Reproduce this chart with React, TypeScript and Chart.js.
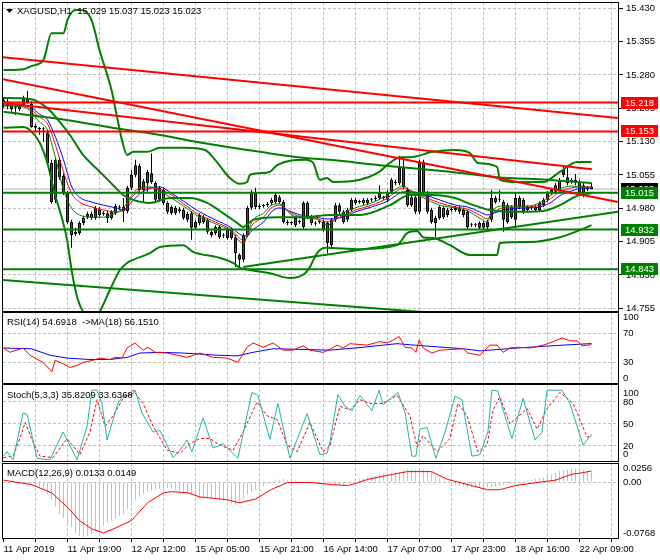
import React, { useEffect, useRef } from 'react';
import { Chart, registerables } from 'chart.js';

Chart.register(...registerables);

const FONT_FAMILY = '"Liberation Sans", Arial, Helvetica, sans-serif';
const FONT_SIZE = 9.5;
const GRID_COLOR = '#c0c0c0';
const GRID_DASH = [3, 2];
const BULL = '#0d6b2a';
const BEAR = '#ff0000';
const GREEN = '#008000';
const RED = '#ff0000';

// ---------- XAGUSD H1 candles (bar 0 .. 147) ----------
const openP = [
  15.215, 15.221, 15.212, 15.206, 15.203, 15.212, 15.226, 15.215, 15.165, 15.161,
  15.158, 15.149, 15.082, 14.999, 15.089, 15.053, 15.014, 14.949, 14.922, 14.924,
  14.947, 14.960, 14.967, 14.958, 14.978, 14.967, 14.969, 14.958, 14.969, 14.981,
  14.983, 14.974, 15.026, 15.055, 15.075, 15.021, 15.037, 15.059, 15.037, 14.999,
  15.021, 14.992, 14.969, 14.981, 14.978, 14.976, 14.967, 14.969, 14.949, 14.947,
  14.960, 14.954, 14.927, 14.924, 14.938, 14.920, 14.933, 14.913, 14.915, 14.875,
  14.864, 14.920, 14.981, 15.014, 14.983, 14.985, 14.987, 14.992, 14.994, 15.005,
  14.994, 14.949, 14.947, 14.958, 14.949, 14.938, 14.992, 14.960, 14.947, 14.949,
  14.949, 14.947, 14.897, 14.954, 14.987, 14.972, 14.954, 14.976, 14.999, 14.994,
  14.999, 14.992, 14.999, 15.001, 15.003, 15.003, 14.999, 15.017, 15.039, 15.037,
  15.073, 15.021, 15.005, 14.972, 14.972, 15.084, 15.014, 14.976, 14.958, 14.958,
  14.981, 14.965, 14.976, 14.981, 14.981, 14.976, 14.972, 14.942, 14.942, 14.947,
  14.947, 14.938, 14.954, 15.003, 14.999, 14.994, 14.949, 14.983, 14.954, 15.003,
  14.999, 14.983, 14.981, 14.983, 14.976, 14.987, 14.999, 15.014, 15.017, 15.021,
  15.066, 15.050, 15.044, 15.044, 15.039, 15.014, 15.023, 15.029,
];
const highP = [
  15.230, 15.228, 15.219, 15.210, 15.219, 15.233, 15.244, 15.221, 15.170, 15.163,
  15.163, 15.156, 15.089, 15.093, 15.095, 15.059, 15.019, 14.954, 14.936, 14.951,
  14.963, 14.972, 14.972, 14.985, 14.983, 14.974, 14.974, 14.976, 14.990, 14.987,
  15.003, 15.030, 15.066, 15.089, 15.080, 15.046, 15.066, 15.104, 15.041, 15.030,
  15.026, 14.996, 14.987, 14.985, 14.983, 14.981, 14.972, 14.974, 14.954, 14.969,
  14.965, 14.958, 14.931, 14.942, 14.942, 14.924, 14.938, 14.936, 14.920, 14.879,
  14.924, 14.985, 15.021, 15.026, 14.990, 14.990, 14.994, 15.003, 15.014, 15.010,
  14.999, 14.954, 14.951, 14.963, 14.954, 14.996, 14.996, 14.965, 14.951, 14.954,
  14.954, 14.951, 14.958, 14.992, 14.992, 14.976, 14.981, 15.003, 15.003, 14.999,
  15.003, 15.003, 15.003, 15.008, 15.032, 15.008, 15.021, 15.048, 15.044, 15.098,
  15.093, 15.026, 15.010, 15.010, 15.089, 15.089, 15.019, 14.981, 14.963, 14.987,
  14.985, 14.981, 14.983, 14.985, 14.985, 14.981, 14.976, 14.947, 14.947, 14.951,
  14.951, 14.954, 15.021, 15.008, 15.021, 14.999, 14.992, 14.987, 15.014, 15.008,
  15.003, 14.987, 14.985, 14.987, 14.996, 15.003, 15.019, 15.026, 15.037, 15.048,
  15.073, 15.071, 15.048, 15.057, 15.044, 15.037, 15.030, 15.037,
];
const lowP = [
  15.206, 15.203, 15.197, 15.190, 15.199, 15.210, 15.215, 15.161, 15.152, 15.145,
  15.129, 15.077, 14.990, 14.992, 15.044, 15.010, 14.945, 14.891, 14.918, 14.920,
  14.942, 14.956, 14.954, 14.954, 14.960, 14.963, 14.947, 14.954, 14.965, 14.976,
  14.949, 14.969, 15.021, 15.050, 15.017, 14.994, 15.017, 15.035, 14.994, 14.994,
  14.987, 14.967, 14.965, 14.965, 14.969, 14.954, 14.949, 14.909, 14.931, 14.942,
  14.945, 14.922, 14.915, 14.920, 14.911, 14.913, 14.909, 14.909, 14.848, 14.846,
  14.859, 14.915, 14.976, 14.978, 14.978, 14.981, 14.983, 14.987, 14.990, 14.990,
  14.945, 14.942, 14.942, 14.938, 14.945, 14.933, 14.956, 14.942, 14.940, 14.945,
  14.927, 14.879, 14.893, 14.949, 14.967, 14.945, 14.949, 14.972, 14.987, 14.990,
  14.987, 14.987, 14.994, 14.996, 14.999, 14.999, 14.994, 15.012, 15.032, 15.032,
  15.023, 14.983, 14.983, 14.967, 14.967, 15.010, 14.967, 14.945, 14.915, 14.954,
  14.956, 14.960, 14.972, 14.972, 14.967, 14.960, 14.933, 14.938, 14.938, 14.931,
  14.931, 14.933, 14.949, 14.990, 14.994, 14.927, 14.945, 14.956, 14.936, 14.978,
  14.967, 14.972, 14.976, 14.972, 14.972, 14.983, 14.994, 15.010, 15.012, 15.017,
  15.050, 15.032, 15.035, 15.032, 15.010, 15.005, 15.019, 15.023,
];
const closeP = [
  15.224, 15.210, 15.203, 15.206, 15.215, 15.228, 15.219, 15.163, 15.161, 15.158,
  15.158, 15.082, 14.994, 15.089, 15.050, 15.014, 14.949, 14.920, 14.927, 14.947,
  14.958, 14.967, 14.958, 14.981, 14.965, 14.969, 14.958, 14.972, 14.985, 14.983,
  14.974, 15.026, 15.055, 15.077, 15.021, 15.041, 15.062, 15.039, 14.999, 15.026,
  14.992, 14.972, 14.983, 14.969, 14.974, 14.958, 14.954, 14.936, 14.936, 14.965,
  14.949, 14.927, 14.920, 14.938, 14.915, 14.918, 14.913, 14.931, 14.879, 14.864,
  14.920, 14.981, 15.014, 14.983, 14.985, 14.985, 14.990, 14.999, 15.010, 14.994,
  14.949, 14.947, 14.947, 14.942, 14.949, 14.992, 14.960, 14.947, 14.945, 14.949,
  14.931, 14.902, 14.954, 14.987, 14.972, 14.949, 14.976, 14.999, 14.992, 14.994,
  14.992, 14.999, 14.999, 15.003, 15.017, 15.003, 15.017, 15.044, 15.037, 15.071,
  15.028, 14.987, 14.987, 15.005, 15.084, 15.014, 14.972, 14.949, 14.947, 14.983,
  14.960, 14.976, 14.978, 14.976, 14.972, 14.965, 14.938, 14.942, 14.942, 14.936,
  14.936, 14.949, 15.003, 14.994, 14.999, 14.954, 14.987, 14.960, 15.003, 14.983,
  14.972, 14.976, 14.981, 14.976, 14.992, 14.999, 15.014, 15.021, 15.032, 15.044,
  15.055, 15.037, 15.039, 15.037, 15.014, 15.032, 15.026, 15.023,
];
const bidPrice = 15.023;

// ---------- moving averages on price (bar index, value) ----------
const maIdx = [0, 5, 7, 9, 11, 13, 15, 17, 19, 22, 25, 28, 30, 32, 34, 37, 39, 42, 45, 49, 53, 57, 59, 60, 61, 62, 65, 67, 69, 72, 75, 78, 81, 84, 88, 92, 96, 98, 100, 102, 106, 109, 113, 116, 119, 121, 122, 125, 131, 134, 137, 139, 142, 145, 147];
const maRed = [15.212, 15.210, 15.201, 15.185, 15.170, 15.122, 15.062, 15.014, 14.994, 14.983, 14.976, 14.972, 14.974, 15.003, 15.021, 15.026, 15.023, 15.010, 14.990, 14.965, 14.949, 14.931, 14.913, 14.906, 14.918, 14.940, 14.960, 14.981, 14.987, 14.969, 14.960, 14.958, 14.949, 14.960, 14.976, 14.987, 15.003, 15.017, 15.026, 15.019, 15.003, 14.992, 14.983, 14.978, 14.965, 14.956, 14.967, 14.981, 14.983, 14.987, 15.003, 15.017, 15.026, 15.028, 15.028];
const maBlue = [15.215, 15.212, 15.206, 15.192, 15.179, 15.140, 15.089, 15.030, 15.005, 14.994, 14.987, 14.981, 14.976, 14.994, 15.012, 15.026, 15.028, 15.014, 14.996, 14.972, 14.954, 14.936, 14.922, 14.918, 14.918, 14.929, 14.949, 14.972, 14.981, 14.972, 14.963, 14.960, 14.956, 14.958, 14.972, 14.983, 14.996, 15.008, 15.017, 15.017, 15.008, 14.999, 14.987, 14.983, 14.972, 14.965, 14.967, 14.976, 14.981, 14.983, 14.994, 15.008, 15.019, 15.026, 15.026];
const maGreen = [15.210, 15.208, 15.197, 15.174, 15.156, 15.093, 15.021, 14.981, 14.965, 14.960, 14.960, 14.969, 14.981, 15.008, 15.026, 15.028, 15.019, 15.003, 14.985, 14.960, 14.945, 14.927, 14.906, 14.900, 14.922, 14.949, 14.969, 14.987, 14.990, 14.965, 14.958, 14.956, 14.942, 14.965, 14.981, 14.992, 15.010, 15.023, 15.030, 15.017, 14.999, 14.987, 14.981, 14.974, 14.958, 14.949, 14.972, 14.985, 14.985, 14.992, 15.010, 15.023, 15.030, 15.028, 15.026];

// ---------- Bollinger-type bands and long green curve ([bar, price]) ----------
const bandUpper = [[0, 15.291], [5, 15.293], [7, 15.300], [10, 15.314], [12, 15.374], [15, 15.374], [16, 15.404], [18, 15.426], [19, 15.426], [22, 15.404], [24, 15.336], [27, 15.246], [28.4, 15.185], [29.6, 15.134], [30.9, 15.100], [32.4, 15.107], [35.9, 15.107], [39.1, 15.116], [45.4, 15.116], [50.4, 15.111], [52.9, 15.089], [56.6, 15.048], [59.1, 15.035], [60.9, 15.039], [61.6, 15.055], [64.1, 15.059], [66.6, 15.062], [68.4, 15.077], [75.4, 15.089], [77.4, 15.082], [79.1, 15.044], [80.9, 15.048], [82.4, 15.039], [89.1, 15.044], [93.4, 15.059], [96.6, 15.082], [99.1, 15.095], [101.6, 15.095], [107.4, 15.107], [112.9, 15.111], [116.6, 15.104], [118.6, 15.082], [123.4, 15.073], [124.1, 15.044], [128.4, 15.039], [134.9, 15.039], [139.1, 15.062], [143.4, 15.084], [147, 15.084]];
const bandMiddle = [[0, 15.228], [6.6, 15.226], [10.9, 15.206], [14.1, 15.174], [16.6, 15.145], [19.9, 15.100], [24.1, 15.062], [27.4, 15.032], [29.9, 15.010], [32.4, 14.999], [36.6, 14.992], [41.6, 15.003], [46.6, 15.003], [50.9, 14.992], [54.9, 14.969], [58.4, 14.947], [59.9, 14.938], [62.4, 14.954], [68.4, 14.960], [75.4, 14.960], [81.6, 14.965], [89.1, 14.965], [96.6, 14.987], [101.6, 15.010], [107.4, 15.010], [112.9, 15.003], [116.6, 14.990], [121.6, 14.976], [126.6, 14.972], [134.9, 14.974], [139.1, 14.987], [143.4, 15.008], [147, 15.014]];
const bandLower = [[0, 15.161], [5, 15.163], [6.6, 15.156], [9.1, 15.127], [10.9, 15.084], [12.9, 15.010], [14.6, 14.958], [15.9, 14.909], [17.1, 14.837], [18.6, 14.774], [20.9, 14.733], [22.4, 14.717], [24.1, 14.747], [26.6, 14.796], [29.1, 14.841], [30.9, 14.857], [32.4, 14.864], [36.6, 14.879], [39.1, 14.893], [44.9, 14.897], [47.4, 14.882], [53.4, 14.870], [57.4, 14.857], [59.1, 14.846], [61.6, 14.841], [66.6, 14.834], [71.6, 14.823], [75.4, 14.834], [76.6, 14.848], [78.4, 14.879], [80.4, 14.891], [89.1, 14.888], [98.4, 14.897], [100.9, 14.924], [103.4, 14.929], [104.9, 14.915], [107.4, 14.913], [111.6, 14.897], [116.6, 14.875], [123.4, 14.875], [124.1, 14.902], [131.6, 14.904], [139.1, 14.915], [144.1, 14.931], [147, 14.942]];
const longGreen = [[0, 15.197], [14.1, 15.181], [30.9, 15.156], [36.6, 15.149], [49.9, 15.127], [64.1, 15.107], [75.4, 15.093], [81.6, 15.089], [94.1, 15.077], [111.6, 15.062], [123.4, 15.050], [135.9, 15.044], [147, 15.037]];

// ---------- drawn objects ----------
const redTrendLines = [
  [[-0.4, 15.320], [153.6, 15.183]],
  [[-0.4, 15.271], [153.6, 14.994]],
  [[-0.4, 15.217], [147.1, 15.068]],
];
const greenTrendLines = [
  [[59.9, 14.848], [153.6, 14.972]],
  [[-0.4, 14.819], [153.6, 14.713]],
];
const redLevels = [15.218, 15.153];
const greenLevels = [15.015, 14.932, 14.843];

// ---------- axes ----------
const priceTicks = [15.430, 15.355, 15.280, 15.205, 15.130, 15.055, 14.980, 14.905, 14.830, 14.755];
const gridIdx = [0, 8, 16, 24, 32, 40, 48, 56, 64, 72, 80, 88, 96, 104, 112, 120, 128, 136, 144, 152];
const timeTickIdx = [0, 16, 32, 48, 64, 80, 96, 112, 128, 144];
const timeTickText = ['11 Apr 2019', '11 Apr 19:00', '12 Apr 12:00', '15 Apr 05:00', '15 Apr 21:00', '16 Apr 14:00', '17 Apr 07:00', '17 Apr 23:00', '18 Apr 16:00', '22 Apr 09:00'];
// edge labels of the sub windows sit half a line inside the frame (two-line label with an empty line)
const rsiTicks = [100, 70, 30, 0];
const rsiTickText = [['', '100'], '70', '30', ['0', '']];
const rsiLevels = [70, 30];
const stochTicks = [100, 80, 50, 20, 0];
const stochTickText = [['', '100'], '80', '50', '20', ['0', '']];
const stochLevels = [80, 50, 20];
const macdTicks = [0.0256, 0, -0.0768];
const macdTickText = [['', '0.0256'], '0.00', ['-0.0768', '']];
const macdLevels = [0];

// ---------- RSI(14) and its MA(18) ([bar, value]) ----------
const rsiLine = [[0, 50], [1.6, 44], [4.9, 50], [6.6, 40], [9.9, 30], [12.1, 17], [12.9, 33], [14.6, 29], [16.6, 23], [18.4, 26], [19.9, 30], [22.4, 33], [24.1, 36], [26.6, 34], [27.9, 37], [29.6, 36], [30.9, 50], [32.9, 57], [34.9, 47], [36.1, 51], [37.9, 44], [40.9, 43], [45.9, 37], [49.1, 43], [52.4, 37], [55.9, 36], [58.6, 30], [60.9, 51], [62.4, 57], [64.9, 51], [67.4, 57], [69.9, 47], [72.4, 47], [74.9, 53], [76.6, 47], [79.9, 44], [81.6, 48], [83.4, 54], [84.9, 50], [86.6, 56], [90.9, 54], [94.1, 59], [95.9, 57], [97.4, 61], [98.9, 66], [100.4, 51], [102.1, 50], [103.1, 44], [103.9, 61], [104.9, 50], [107.1, 43], [109.1, 47], [114.9, 49], [116.1, 43], [119.1, 40], [121.6, 54], [123.4, 54], [124.9, 44], [126.6, 50], [128.4, 51], [131.6, 50], [134.9, 54], [136.6, 57], [139.6, 64], [141.6, 60], [143.4, 60], [144.6, 53], [147, 54.6918]];
const rsiMa = [[0, 50], [6.9, 49], [11.6, 40], [15.9, 36], [21.6, 34], [26.6, 34], [30.9, 37], [34.1, 43], [39.1, 44], [44.9, 43], [53.4, 40], [58.4, 39], [62.4, 44], [67.4, 49], [81.6, 47], [89.9, 51], [98.4, 56], [104.9, 53], [114.9, 49], [119.1, 46], [128.4, 50], [139.9, 54], [147, 56.151]];

// ---------- Stochastic(5,3,3) ----------
const stochMain = [[0, 6], [0.9, 12], [2.4, 1], [4.9, 65], [5.9, 63], [8.4, 3], [11.6, 1], [14.9, 39], [18.4, 1], [20.9, 47], [22.1, 96], [23.4, 96], [24.6, 78], [25.9, 28], [28.6, 78], [29.9, 89], [32.1, 89], [32.9, 96], [34.6, 65], [37.4, 39], [39.1, 41], [42.4, 4], [44.1, 14], [45.9, 28], [47.1, 12], [49.9, 58], [52.4, 17], [54.9, 23], [58.6, 3], [62.1, 93], [63.6, 89], [66.6, 29], [68.6, 78], [71.6, 3], [75.9, 64], [79.1, 8], [80.9, 10], [81.6, 25], [83.6, 90], [85.4, 74], [87.1, 68], [89.1, 89], [92.1, 68], [93.9, 96], [94.9, 76], [98.6, 93], [100.4, 65], [102.1, 6], [103.1, 6], [104.1, 43], [105.9, 45], [108.1, 3], [110.4, 39], [112.9, 88], [114.6, 83], [117.1, 6], [119.1, 8], [121.1, 39], [122.1, 96], [123.6, 95], [124.9, 69], [127.1, 30], [129.9, 85], [132.9, 28], [134.6, 39], [135.9, 96], [139.6, 96], [141.6, 78], [144.9, 21], [147, 35.8209]];
const stochSignal = [[0, 4], [2.4, 6], [4.1, 30], [5.4, 52], [7.4, 25], [9.1, 6], [12.4, 4], [15.9, 30], [19.1, 8], [21.6, 39], [23.4, 83], [25.4, 47], [27.4, 61], [29.9, 85], [32.4, 96], [34.9, 78], [37.4, 47], [40.9, 14], [44.1, 10], [46.6, 23], [49.1, 30], [51.6, 30], [54.1, 21], [57.4, 14], [59.9, 39], [63.4, 80], [65.9, 61], [68.4, 56], [70.9, 21], [73.4, 12], [76.6, 52], [79.9, 12], [81.6, 20], [84.1, 74], [86.6, 69], [89.1, 83], [91.6, 78], [94.9, 78], [98.4, 89], [101.6, 61], [103.4, 19], [104.9, 34], [108.4, 12], [111.6, 30], [113.6, 78], [115.9, 61], [118.6, 12], [120.9, 21], [122.4, 69], [124.1, 87], [126.6, 50], [130.9, 71], [133.4, 43], [135.9, 71], [139.1, 93], [142.4, 78], [145.9, 32], [147, 33.6368]];

// ---------- MACD(12,26,9) ----------
const macdHist = [
  -0.001, -0.001, -0.002, -0.002, -0.002, -0.003, -0.003, -0.0035, -0.005, -0.007,
  -0.010, -0.016, -0.024, -0.033, -0.043, -0.049, -0.055, -0.061, -0.069, -0.073,
  -0.074, -0.073, -0.070, -0.066, -0.062, -0.059, -0.055, -0.052, -0.049, -0.046,
  -0.043, -0.036, -0.029, -0.024, -0.020, -0.016, -0.013, -0.011, -0.010, -0.009,
  -0.008, -0.008, -0.009, -0.010, -0.011, -0.013, -0.015, -0.017, -0.020, -0.022,
  -0.022, -0.022, -0.022, -0.023, -0.024, -0.025, -0.027, -0.029, -0.031, -0.027,
  -0.022, -0.017, -0.013, -0.010, -0.008, -0.006, -0.003, 0.001, 0.002, 0.003,
  0.004, 0.003, 0.0025, 0.002, 0.001, 0.001, 0, -0.001, -0.001, -0.002,
  -0.003, -0.003, -0.0035, -0.004, -0.004, -0.004, -0.003, -0.001, 0.002, 0.004,
  0.005, 0.006, 0.006, 0.008, 0.010, 0.011, 0.012, 0.012, 0.013, 0.014,
  0.016, 0.017, 0.017, 0.017, 0.017, 0.017, 0.016, 0.013, 0.008, 0.004,
  0.001, -0.001, -0.0035, -0.004, -0.005, -0.006, -0.007, -0.007, -0.008, -0.008,
  -0.008, -0.007, -0.007, -0.006, -0.005, -0.0035, -0.003, -0.002, -0.001, 0,
  0.001, 0.002, 0.0025, 0.004, 0.005, 0.006, 0.008, 0.010, 0.012, 0.015,
  0.016, 0.017, 0.018, 0.018, 0.017, 0.016, 0.014, 0.0133,
];
const macdSignal = [[0, 0.0025], [7, -0.0035], [12, -0.0145], [16, -0.034], [19, -0.052], [22, -0.063], [25, -0.0686], [28, -0.062], [32, -0.052], [36, -0.028], [40, -0.0145], [42, -0.013], [46, -0.0145], [49, -0.020], [56, -0.024], [59, -0.028], [63, -0.023], [67, -0.010], [71, -0.0007], [77, -0.0007], [82, -0.0035], [86, -0.0048], [88, -0.002], [91, 0.0035], [96, 0.009], [101, 0.014], [107, 0.014], [111, 0.0035], [117, -0.0048], [121, -0.0104], [124, -0.0104], [128, -0.0048], [133, -0.001], [138, 0.0025], [142, 0.0104], [145, 0.0127], [147, 0.0149]];

// ---------- layout (page pixels) ----------
const W = 660;
const AXIS_W = 41;
const X_MIN = -0.125;
const X_MAX = 153.875;
const MAIN_TOP = 2, MAIN_H = 310;
const RSI_TOP = 312, RSI_H = 72;
const STO_TOP = 384, STO_H = 78;
const MACD_TOP = 463, MACD_H = 76, XLAB_H = 21;
const PRICE_MIN = 14.7466, PRICE_MAX = 15.4442;
const RSI_MIN = 0, RSI_MAX = 100;
const STO_MIN = -2, STO_MAX = 104.5;
const MACD_MIN = -0.0768, MACD_MAX = 0.0256;

const font = { family: FONT_FAMILY, size: FONT_SIZE };
const fontStr = `${FONT_SIZE}px ${FONT_FAMILY}`;

const pairs = (arr) => arr.map(([x, y]) => ({ x, y }));
const zipPts = (xs, ys) => xs.map((x, i) => ({ x, y: ys[i] }));
const barIdx = openP.map((_, i) => i);

const noPad = (s) => {
  s.paddingTop = 0;
  s.paddingBottom = 0;
  s.paddingLeft = 0;
  s.paddingRight = 0;
};

const framePlugin = {
  id: 'frame',
  afterDraw(chart) {
    const { ctx, chartArea: a } = chart;
    ctx.save();
    ctx.strokeStyle = '#000';
    ctx.lineWidth = 1;
    ctx.strokeRect(a.left - 0.5, a.top + 0.5, a.right - a.left, a.bottom - a.top - 1);
    ctx.restore();
  },
};

function labelPlugin(id, draw) {
  return {
    id,
    afterDraw(chart) {
      const ctx = chart.ctx;
      ctx.save();
      ctx.font = fontStr;
      ctx.textBaseline = 'middle';
      ctx.textAlign = 'left';
      draw(ctx, chart);
      ctx.restore();
    },
  };
}

function xAxis(showLabels) {
  return {
    type: 'linear',
    min: X_MIN,
    max: X_MAX,
    offset: false,
    afterBuildTicks: (s) => { s.ticks = gridIdx.map((v) => ({ value: v })); },
    afterTickToLabelConversion: (s) => {
      s.ticks.forEach((t) => {
        const k = timeTickIdx.indexOf(t.value);
        t.label = showLabels && k >= 0 ? timeTickText[k] : '';
      });
    },
    afterFit: (s) => { s.height = showLabels ? XLAB_H : 0; noPad(s); },
    ticks: { display: showLabels, autoSkip: false, maxRotation: 0, minRotation: 0, align: 'start', padding: 2, color: '#000', font },
    grid: {
      offset: false,
      color: (c) => (c.tick && c.tick.value === 0 ? 'rgba(0,0,0,0)' : GRID_COLOR),
      lineWidth: 1,
      drawTicks: showLabels,
      tickLength: 3,
      tickColor: '#000',
      tickWidth: 1,
      tickBorderDash: [],
    },
    border: { display: false, dash: GRID_DASH },
  };
}

function subYAxis(min, max, vals, labels, levels) {
  return {
    type: 'linear',
    position: 'right',
    min,
    max,
    beginAtZero: false,
    afterBuildTicks: (s) => { s.ticks = vals.map((v) => ({ value: v })); },
    afterTickToLabelConversion: (s) => { s.ticks.forEach((t, i) => { t.label = labels[i]; }); },
    afterFit: (s) => { s.width = AXIS_W; noPad(s); },
    ticks: { autoSkip: false, color: '#000', font, padding: 4 },
    grid: {
      color: (c) => (levels.includes(vals[c.index]) ? GRID_COLOR : 'rgba(0,0,0,0)'),
      drawTicks: false,
    },
    border: { display: false, dash: GRID_DASH },
  };
}

const baseOptions = (scales) => ({
  animation: false,
  responsive: false,
  maintainAspectRatio: false,
  devicePixelRatio: 1,
  events: [],
  layout: { padding: { left: 3, right: 0, top: 0, bottom: 0 } },
  plugins: { legend: { display: false }, tooltip: { enabled: false }, title: { display: false } },
  scales,
});

const lineDs = (data, color, width, order, extra = {}) => ({
  type: 'line',
  data,
  borderColor: color,
  borderWidth: width,
  pointRadius: 0,
  fill: false,
  tension: 0,
  clip: 0,
  order,
  ...extra,
});

function mainConfig() {
  const smooth = { cubicInterpolationMode: 'monotone' };
  const datasets = [
    lineDs([{ x: -2, y: bidPrice }, { x: 160, y: bidPrice }], '#b4b4b4', 1, 40),
    {
      type: 'bar',
      data: barIdx.map((i) => ({ x: i, y: [lowP[i], highP[i]] })),
      backgroundColor: '#000',
      borderWidth: 0,
      barThickness: 1,
      grouped: false,
      inflateAmount: 0,
      clip: 0,
      order: 35,
    },
    {
      type: 'bar',
      data: barIdx.map((i) => ({ x: i, y: [openP[i], closeP[i]] })),
      backgroundColor: barIdx.map((i) => (closeP[i] >= openP[i] ? BULL : BEAR)),
      borderColor: '#000',
      borderWidth: 1,
      borderSkipped: false,
      barThickness: 3,
      grouped: false,
      minBarLength: 1,
      inflateAmount: 0,
      clip: 0,
      order: 34,
    },
    lineDs(zipPts(maIdx, maBlue), '#0000ff', 1, 20, smooth),
    lineDs(zipPts(maIdx, maRed), '#ff0000', 1, 19, smooth),
    lineDs(zipPts(maIdx, maGreen), GREEN, 1, 18, smooth),
    lineDs(pairs(bandUpper), GREEN, 2, 12, smooth),
    lineDs(pairs(bandMiddle), GREEN, 2, 12, smooth),
    lineDs(pairs(bandLower), GREEN, 2, 12, smooth),
    lineDs(pairs(longGreen), GREEN, 2, 12, smooth),
    ...greenTrendLines.map((l) => lineDs(pairs(l), GREEN, 2, 8)),
    ...greenLevels.map((v) => lineDs([{ x: -2, y: v }, { x: 160, y: v }], GREEN, 2, 7)),
    ...redTrendLines.map((l) => lineDs(pairs(l), RED, 2, 6)),
    ...redLevels.map((v) => lineDs([{ x: -2, y: v }, { x: 160, y: v }], RED, 2, 5)),
  ];
  const overlay = labelPlugin('mainOverlay', (ctx, chart) => {
    const ys = chart.scales.y;
    const right = chart.chartArea.right;
    const boxes = [
      { v: bidPrice, bg: '#000' },
      ...redLevels.map((v) => ({ v, bg: RED })),
      ...greenLevels.map((v) => ({ v, bg: GREEN })),
    ];
    boxes.forEach((b) => {
      const py = Math.round(ys.getPixelForValue(b.v));
      ctx.fillStyle = b.bg;
      ctx.fillRect(right + 2, py - 6, 37, 12);
      ctx.fillStyle = '#fff';
      ctx.fillText(b.v.toFixed(3), right + 6, py + 0.5);
    });
    const last = closeP.length - 1;
    ctx.fillStyle = '#000';
    ctx.beginPath();
    ctx.moveTo(6, 7);
    ctx.lineTo(13, 7);
    ctx.lineTo(9.5, 11);
    ctx.closePath();
    ctx.fill();
    ctx.fillText(
      `XAGUSD,H1  ${openP[last].toFixed(3)} ${highP[last].toFixed(3)} ${lowP[last].toFixed(3)} ${closeP[last].toFixed(3)}`,
      17, 9
    );
  });
  return {
    type: 'line',
    data: { datasets },
    options: baseOptions({
      x: xAxis(false),
      y: {
        type: 'linear',
        position: 'right',
        min: PRICE_MIN,
        max: PRICE_MAX,
        beginAtZero: false,
        afterBuildTicks: (s) => { s.ticks = priceTicks.map((v) => ({ value: v })); },
        afterFit: (s) => { s.width = AXIS_W; noPad(s); },
        ticks: { autoSkip: false, color: '#000', font, padding: 3, callback: (v) => Number(v).toFixed(3) },
        grid: { color: GRID_COLOR, drawTicks: true, tickLength: 4, tickColor: '#000', tickWidth: 1, tickBorderDash: [] },
        border: { display: false, dash: GRID_DASH },
      },
    }),
    plugins: [framePlugin, overlay],
  };
}

function rsiConfig() {
  const last = rsiLine.length - 1;
  const overlay = labelPlugin('rsiLabel', (ctx) => {
    ctx.fillStyle = '#000';
    ctx.fillText(`RSI(14) ${rsiLine[last][1].toFixed(4)}  ->MA(18) ${rsiMa[rsiMa.length - 1][1].toFixed(4)}`, 7, 10);
  });
  return {
    type: 'line',
    data: {
      datasets: [
        lineDs(pairs(rsiMa), '#0000ff', 1, 2),
        lineDs(pairs(rsiLine), '#ff0000', 1, 1),
      ],
    },
    options: baseOptions({
      x: xAxis(false),
      y: subYAxis(RSI_MIN, RSI_MAX, rsiTicks, rsiTickText, rsiLevels),
    }),
    plugins: [framePlugin, overlay],
  };
}

function stochConfig() {
  const overlay = labelPlugin('stochLabel', (ctx) => {
    ctx.fillStyle = '#000';
    ctx.fillText(`Stoch(5,3,3) ${stochMain[stochMain.length - 1][1].toFixed(4)} ${stochSignal[stochSignal.length - 1][1].toFixed(4)}`, 7, 11);
  });
  return {
    type: 'line',
    data: {
      datasets: [
        lineDs(pairs(stochSignal), '#ff0000', 1, 2, { borderDash: [3, 2] }),
        lineDs(pairs(stochMain), '#20b2aa', 1, 1),
      ],
    },
    options: baseOptions({
      x: xAxis(false),
      y: subYAxis(STO_MIN, STO_MAX, stochTicks, stochTickText, stochLevels),
    }),
    plugins: [framePlugin, overlay],
  };
}

function macdConfig() {
  const overlay = labelPlugin('macdLabel', (ctx) => {
    ctx.fillStyle = '#000';
    ctx.fillText(`MACD(12,26,9) ${macdHist[macdHist.length - 1].toFixed(4)} ${macdSignal[macdSignal.length - 1][1].toFixed(4)}`, 7, 10);
  });
  return {
    type: 'line',
    data: {
      datasets: [
        {
          type: 'bar',
          data: barIdx.map((i) => ({ x: i, y: macdHist[i] })),
          backgroundColor: '#c0c0c0',
          borderWidth: 0,
          barThickness: 1,
          grouped: false,
          inflateAmount: 0,
          clip: 0,
          order: 5,
        },
        lineDs(pairs(macdSignal), '#ff0000', 1, 1),
      ],
    },
    options: baseOptions({
      x: xAxis(true),
      y: subYAxis(MACD_MIN, MACD_MAX, macdTicks, macdTickText, macdLevels),
    }),
    plugins: [framePlugin, overlay],
  };
}

export default function App() {
  const mainRef = useRef(null);
  const rsiRef = useRef(null);
  const stoRef = useRef(null);
  const macdRef = useRef(null);

  useEffect(() => {
    const charts = [
      new Chart(mainRef.current, mainConfig()),
      new Chart(rsiRef.current, rsiConfig()),
      new Chart(stoRef.current, stochConfig()),
      new Chart(macdRef.current, macdConfig()),
    ];
    return () => charts.forEach((c) => c.destroy());
  }, []);

  const cs = (top, h) => ({ position: 'absolute', left: 0, top, width: W, height: h, display: 'block' });

  return (
    <div style={{ position: 'absolute', left: 0, top: 0, width: W, height: 560, background: '#fff', overflow: 'hidden' }}>
      <canvas ref={mainRef} width={W} height={MAIN_H} style={cs(MAIN_TOP, MAIN_H)} />
      <canvas ref={rsiRef} width={W} height={RSI_H} style={cs(RSI_TOP, RSI_H)} />
      <canvas ref={stoRef} width={W} height={STO_H} style={cs(STO_TOP, STO_H)} />
      <canvas ref={macdRef} width={W} height={MACD_H + XLAB_H} style={cs(MACD_TOP, MACD_H + XLAB_H)} />
    </div>
  );
}
